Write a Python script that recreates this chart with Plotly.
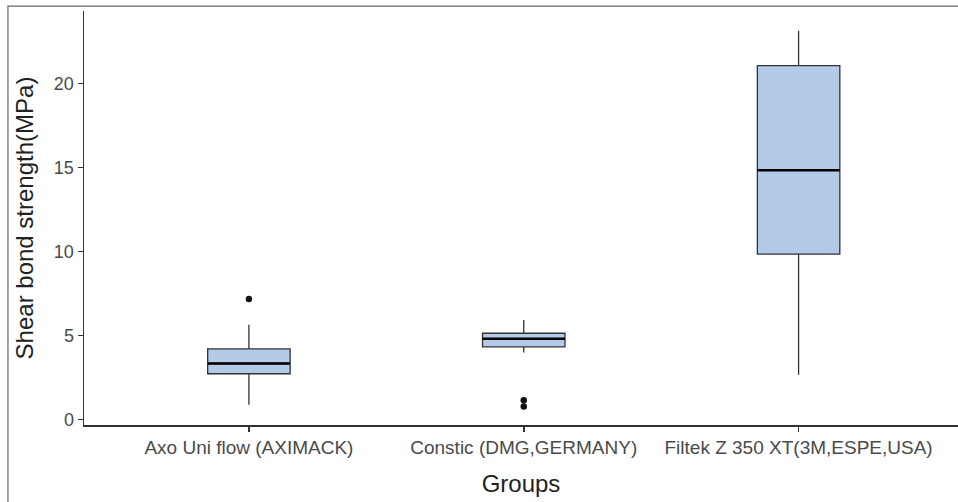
import plotly.graph_objects as go

groups = ["Axo Uni flow (AXIMACK)", "Constic (DMG,GERMANY)", "Filtek Z 350 XT(3M,ESPE,USA)"]
lower_whisker = [0.89, 3.99, 2.67]
q1_vals = [2.73, 4.33, 9.85]
median_vals = [3.34, 4.81, 14.84]
q3_vals = [4.21, 5.14, 21.07]
upper_whisker = [5.64, 5.93, 23.15]
outlier_group = [0, 1, 1]
outlier_vals = [7.18, 1.15, 0.78]

BOX_W = 0.30
FILL = "#b3cbe8"
EDGE = "#333333"
FONT = "Liberation Sans, Arial, sans-serif"

fig = go.Figure()
for i, g in enumerate(groups):
    fig.add_trace(go.Box(
        x=[i], q1=[q1_vals[i]], median=[median_vals[i]], q3=[q3_vals[i]],
        lowerfence=[lower_whisker[i]], upperfence=[upper_whisker[i]],
        width=BOX_W, whiskerwidth=0, fillcolor=FILL,
        line=dict(color=EDGE, width=1.3), boxpoints=False,
        name=g, showlegend=False, hoverinfo="skip",
    ))
    fig.add_trace(go.Scatter(
        x=[i - BOX_W / 2, i + BOX_W / 2], y=[median_vals[i], median_vals[i]],
        mode="lines", line=dict(color="#000000", width=2.6),
        showlegend=False, hoverinfo="skip",
    ))

fig.add_trace(go.Scatter(
    x=outlier_group, y=outlier_vals, mode="markers",
    marker=dict(color="#111111", size=6.5),
    showlegend=False, hoverinfo="skip",
))

ytick_font = dict(family=FONT, size=18, color="#4a4a4a")
xtick_font = dict(family=FONT, size=19, color="#4a4a4a")
title_font = dict(family=FONT, size=24, color="#222222")
fig.update_layout(
    width=958, height=502,
    margin=dict(l=84, r=0, t=11, b=77),
    paper_bgcolor="white", plot_bgcolor="white",
    font=dict(family=FONT, color="#333333"),
    xaxis=dict(
        range=[-0.6, 2.58], tickmode="array", tickvals=[0, 1, 2], ticktext=groups,
        showgrid=False, zeroline=False, showline=True, linecolor=EDGE, linewidth=1.5,
        ticks="outside", ticklen=5, tickcolor=EDGE, tickwidth=1.5,
        tickfont=xtick_font, automargin=False,
        title=dict(text="Groups", font=title_font, standoff=18),
    ),
    yaxis=dict(
        range=[-0.32, 24.32], tickvals=[0, 5, 10, 15, 20],
        showgrid=False, zeroline=False, showline=True, linecolor=EDGE, linewidth=1.5,
        ticks="outside", ticklen=5, tickcolor=EDGE, tickwidth=1.5,
        tickfont=ytick_font, automargin=False,
        title=dict(text="Shear bond strength(MPa)", font=title_font, standoff=13),
    ),
    shapes=[dict(
        type="rect", xref="paper", yref="paper",
        x0=-0.087, x1=1.02, y0=-0.25, y1=1.012,
        line=dict(color="#666666", width=1.2), layer="below",
    )],
)

fig.write_html(
    "out.html",
    config={"displayModeBar": False, "staticPlot": True},
    post_script="document.body.style.margin='0';document.body.style.overflow='hidden';",
)
